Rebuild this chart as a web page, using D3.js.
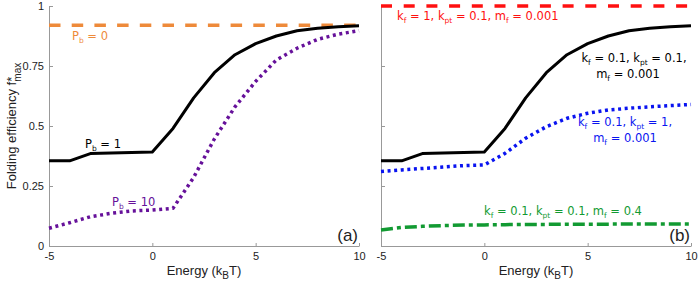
<!DOCTYPE html>
<html>
<head>
<meta charset="utf-8">
<script src="https://cdn.jsdelivr.net/npm/d3@7"></script>
<style>
  body { margin: 0; background: #fff; }
  svg { display: block; }
</style>
</head>
<body>
<svg id="chart" width="698" height="282"></svg>
<script>
'use strict'

// energy values (kBT)
const energy = [-5, -4, -3, -2, -1, 0, 1, 2, 3, 4, 5, 6, 7, 8, 9, 10]

// panel (a)
const pb0  = [0.92, 0.92, 0.92, 0.92, 0.92, 0.92, 0.92, 0.92, 0.92, 0.92, 0.92, 0.92, 0.92, 0.92, 0.92, 0.92]
const pb1  = [0.355, 0.355, 0.385, 0.388, 0.390, 0.392, 0.490, 0.617, 0.722, 0.797, 0.843, 0.875, 0.897, 0.907, 0.914, 0.918]
const pb10 = [0.074, 0.097, 0.122, 0.136, 0.146, 0.150, 0.157, 0.286, 0.446, 0.580, 0.686, 0.775, 0.824, 0.861, 0.883, 0.897]

// panel (b)
const kf1   = [1, 1, 1, 1, 1, 1, 1, 1, 1, 1, 1, 1, 1, 1, 1, 1]
const kfpt  = pb1
const kpt1  = [0.310, 0.317, 0.323, 0.329, 0.335, 0.338, 0.386, 0.449, 0.497, 0.532, 0.553, 0.567, 0.574, 0.580, 0.585, 0.590]
const mf04  = [0.067, 0.077, 0.082, 0.085, 0.087, 0.088, 0.089, 0.090, 0.090, 0.091, 0.091, 0.091, 0.092, 0.092, 0.092, 0.092]

const xTicks = [-5, 0, 5, 10]
const yTicks = [0, 0.25, 0.5, 0.75, 1]

const svg = d3.select('#chart')
const axisFont = 'Liberation Sans, Arial, sans-serif'
const noteFont = 'DejaVu Sans, sans-serif'

let yScale = d3.scaleLinear().domain([0, 1]).range([246, 6])

function make_panel(x0, x1, showY){
	let xScale = d3.scaleLinear().domain([-5, 10]).range([x0, x1])
	let g = svg.append('g')

	let xa = g.append('g')
		.attr('transform', 'translate(0,' + yScale(0) + ')')
		.call(d3.axisBottom(xScale).tickValues(xTicks).tickSizeInner(-3).tickSizeOuter(0).tickPadding(6).tickFormat(d => String(d)))
	let ya = g.append('g')
		.attr('transform', 'translate(' + x0 + ',0)')
		.call(d3.axisLeft(yScale).tickValues(yTicks).tickSizeInner(-4).tickSizeOuter(0).tickPadding(5).tickFormat(d => showY ? String(d) : ''))

	;[xa, ya].forEach(function(a){
		a.select('.domain').attr('stroke', '#999').attr('stroke-width', 1)
		a.selectAll('.tick line').attr('stroke', '#999')
		a.selectAll('text').attr('fill', '#222').style('font-family', axisFont).style('font-size', '11px')
	})

	// x label
	let xl = g.append('text')
		.attr('x', (x0 + x1) / 2).attr('y', 275)
		.attr('text-anchor', 'middle')
		.style('font-family', axisFont).style('font-size', '13px').attr('fill', '#222')
	xl.append('tspan').text('Energy (k')
	xl.append('tspan').attr('dy', 4).style('font-size', '10px').text('B')
	xl.append('tspan').attr('dy', -4).text('T)')

	return {g: g, x: xScale}
}

function draw_line(p, vals, color, dash, width){
	let line = d3.line().x((d, i) => p.x(energy[i])).y(d => yScale(d))
	p.g.append('path')
		.datum(vals)
		.attr('fill', 'none')
		.attr('stroke', color)
		.attr('stroke-width', width)
		.attr('stroke-dasharray', dash)
		.attr('stroke-linejoin', 'round')
		.attr('d', line)
}

// parts: [text, isSub]
function note(p, x, y, parts, color, anchor){
	let t = p.g.append('text')
		.attr('x', x).attr('y', y)
		.attr('text-anchor', anchor || 'start')
		.attr('fill', color)
		.style('font-family', noteFont).style('font-size', '11.5px')
	let down = false
	parts.forEach(function(pt){
		let sp = t.append('tspan').text(pt[0])
		if (pt[1] && !down){ sp.attr('dy', 2.5).style('font-size', '7.5px'); down = true }
		else if (pt[1]){ sp.style('font-size', '7.5px') }
		else if (!pt[1] && down){ sp.attr('dy', -2.5); down = false }
	})
}

// ---- panel (a)
let pa = make_panel(49, 359, true)
draw_line(pa, pb0, '#ee8a3a', '11.5,11.2', 3.5)
draw_line(pa, pb10, '#66119a', '3,3.6', 3.5)
draw_line(pa, pb1, '#000', null, 3)

note(pa, 72, 40, [['P'], ['b', 1], [' = 0']], '#ee8a3a')
note(pa, 85, 148, [['P'], ['b', 1], [' = 1']], '#000')
note(pa, 112, 206, [['P'], ['b', 1], [' = 10']], '#66119a')

pa.g.append('text').attr('x', 358).attr('y', 241).attr('text-anchor', 'end')
	.style('font-family', axisFont).style('font-size', '17px').attr('fill', '#222').text('(a)')

// y label
let yl = svg.append('text')
	.attr('transform', 'translate(16,126) rotate(-90)')
	.attr('text-anchor', 'middle')
	.style('font-family', axisFont).style('font-size', '13px').attr('fill', '#222')
yl.append('tspan').text('Folding efficiency f*')
yl.append('tspan').attr('dx', -5).attr('dy', 5).style('font-size', '10px').text('max')

// ---- panel (b)
let pbp = make_panel(381, 691, false)
draw_line(pbp, kf1, '#ff1010', '11,11.7', 3.5)
draw_line(pbp, mf04, '#129a32', '12,4,4,4', 3.5)
draw_line(pbp, kpt1, '#0a14f0', '3,3.6', 3.5)
draw_line(pbp, kfpt, '#000', null, 3)

note(pbp, 397, 20, [['k'], ['f', 1], [' = 1, k'], ['pt', 1], [' = 0.1, m'], ['f', 1], [' = 0.001']], '#ff1010')
note(pbp, 634, 62, [['k'], ['f', 1], [' = 0.1, k'], ['pt', 1], [' = 0.1,']], '#000', 'middle')
note(pbp, 628, 78, [['m'], ['f', 1], [' = 0.001']], '#000', 'middle')
note(pbp, 625, 126, [['k'], ['f', 1], [' = 0.1, k'], ['pt', 1], [' = 1,']], '#0a14f0', 'middle')
note(pbp, 625, 142, [['m'], ['f', 1], [' = 0.001']], '#0a14f0', 'middle')
note(pbp, 563, 215, [['k'], ['f', 1], [' = 0.1, k'], ['pt', 1], [' = 0.1, m'], ['f', 1], [' = 0.4']], '#129a32', 'middle')

pbp.g.append('text').attr('x', 690).attr('y', 241).attr('text-anchor', 'end')
	.style('font-family', axisFont).style('font-size', '17px').attr('fill', '#222').text('(b)')
</script>
</body>
</html>
